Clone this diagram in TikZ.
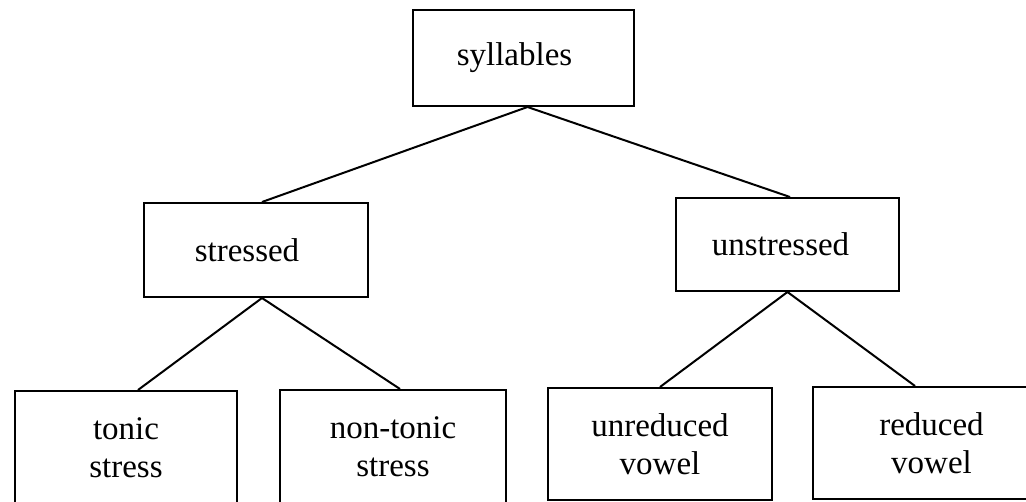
\documentclass[tikz,border=0pt]{standalone}
\usepackage{fontspec}
\setmainfont{Liberation Serif}
\begin{document}
\begin{tikzpicture}[x=1pt,y=-1pt,
  box/.style={draw, line width=2pt, rectangle, align=center, inner sep=0pt,
    font=\fontsize{33}{38}\selectfont},
  conn/.style={line width=2pt}]
\useasboundingbox (0,0) rectangle (1026,502);
\clip (0,0) rectangle (1026,502);
\node[box, minimum width=221pt, minimum height=96pt] (syl) at (523.5,58) {\hspace*{-18pt}syllables};
\node[box, minimum width=224pt, minimum height=94pt] (str) at (256,250) {\hspace*{-18pt}stressed};
\node[box, minimum width=223pt, minimum height=93pt] (uns) at (787.5,244.5) {\hspace*{-14pt}unstressed};
\node[box, minimum width=222pt, minimum height=114pt] (ton) at (126,448) {tonic\\stress};
\node[box, minimum width=226pt, minimum height=114pt] (non) at (393,447) {non-tonic\\stress};
\node[box, minimum width=224pt, minimum height=112pt] (unr) at (660,444) {unreduced\\vowel};
\node[box, minimum width=237pt, minimum height=112pt] (red) at (931.5,443) {reduced\\vowel};
\draw[conn] ([xshift=4pt]syl.south) -- ([xshift=6pt]str.north);
\draw[conn] ([xshift=4pt]syl.south) -- ([xshift=2.5pt]uns.north);
\draw[conn] ([xshift=6pt]str.south) -- ([xshift=12pt]ton.north);
\draw[conn] ([xshift=6pt]str.south) -- ([xshift=7pt]non.north);
\draw[conn] (uns.south) -- (unr.north);
\draw[conn] (uns.south) -- ([xshift=-16.5pt]red.north);
\end{tikzpicture}
\end{document}
